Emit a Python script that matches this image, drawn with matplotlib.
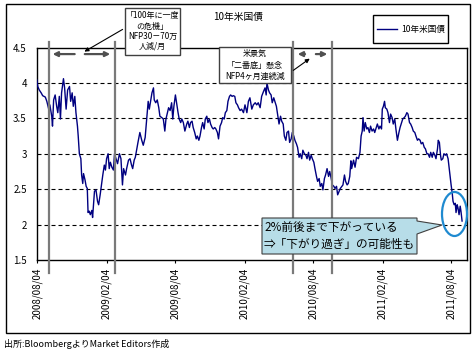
import numpy as np
import pandas as pd
import matplotlib
matplotlib.use('Agg')
import matplotlib.pyplot as plt
import matplotlib.dates as mdates
from matplotlib.patches import Rectangle, Polygon, Ellipse, FancyArrowPatch
from matplotlib.lines import Line2D

plt.rcParams['font.family'] = ['Noto Sans CJK JP', 'DejaVu Sans']

# --- data: days since 2008/08/04 and 10y yield (%) ---
days_a = [0, 2, 6, 11, 15, 22, 26, 31, 34, 39, 41, 44, 48, 52, 55, 59, 62, 65, 70, 73,
          77, 81, 86, 89, 93, 96, 100, 103, 107, 109, 112, 116, 118, 121, 123, 127, 130, 133, 135, 138,
          141, 145, 147, 152, 156, 160, 163, 167, 170, 174, 178, 181, 184, 188, 191, 194, 198, 202, 205, 209,
          213, 218, 222, 226, 229, 234, 237, 242, 246, 250, 253, 257, 260, 264, 267]
yld_a = [4.04, 3.95, 3.90, 3.86, 3.82, 3.80, 3.74, 3.63, 3.69, 3.53, 3.39, 3.76, 3.83, 3.67, 3.58, 3.81, 3.49, 3.86, 4.06, 3.93,
         3.63, 3.90, 3.95, 3.74, 3.86, 3.67, 3.81, 3.58, 3.39, 3.25, 3.00, 2.93, 2.70, 2.58, 2.72, 2.63, 2.54, 2.51, 2.17, 2.19,
         2.14, 2.20, 2.10, 2.47, 2.49, 2.33, 2.28, 2.42, 2.54, 2.70, 2.84, 2.77, 2.93, 3.00, 2.79, 2.88, 2.81, 2.77, 3.00, 2.93,
         2.86, 3.00, 2.93, 2.56, 2.79, 2.70, 2.79, 2.91, 2.93, 2.84, 2.79, 2.91, 2.95, 3.07, 3.16]

days_b = [272, 277, 281, 286, 290, 294, 297, 301, 304, 308, 310, 314, 318, 322, 325, 330, 334, 338, 341, 345,
          348, 352, 356, 359, 362, 366, 369, 373, 376, 380, 383, 387, 391, 396, 399, 403, 406, 410, 413, 417,
          421, 424, 428, 431, 435, 438, 442, 445, 449, 452, 456, 459, 463, 466, 470, 473, 477, 480, 484, 488,
          491, 495, 498, 502, 505, 509, 512, 516, 519, 523, 526, 530, 533, 537, 541, 546]
yld_b = [3.30, 3.19, 3.12, 3.23, 3.49, 3.74, 3.63, 3.76, 3.86, 3.93, 3.76, 3.72, 3.76, 3.65, 3.53, 3.51, 3.49, 3.32, 3.49, 3.58,
         3.65, 3.61, 3.72, 3.49, 3.67, 3.83, 3.72, 3.58, 3.49, 3.44, 3.49, 3.44, 3.32, 3.42, 3.46, 3.37, 3.44, 3.46, 3.37, 3.30,
         3.21, 3.25, 3.19, 3.25, 3.37, 3.44, 3.35, 3.49, 3.53, 3.44, 3.49, 3.42, 3.37, 3.35, 3.37, 3.35, 3.30, 3.21, 3.39, 3.44,
         3.51, 3.49, 3.58, 3.61, 3.74, 3.81, 3.83, 3.81, 3.82, 3.81, 3.72, 3.69, 3.65, 3.61, 3.63, 3.58]

days_c = [550, 555, 559, 563, 568, 572, 577, 581, 585, 590, 594, 599, 603, 606, 608, 612, 615, 619, 622, 626,
          629, 633, 637, 640, 644, 647, 651, 654, 658, 661, 665, 668, 672, 675, 679, 682, 686, 689, 693, 696,
          700, 703, 707, 711, 714, 718, 721, 725, 728, 732, 735, 739, 742, 746, 749, 753, 756, 760, 763, 767,
          771, 774, 778, 781, 785, 788, 792, 795, 799, 802, 806, 809, 813, 816, 820, 823, 827]
yld_c = [3.69, 3.58, 3.74, 3.79, 3.63, 3.69, 3.72, 3.69, 3.72, 3.65, 3.81, 3.88, 3.93, 3.83, 4.00, 3.90, 3.86, 3.83, 3.72, 3.79,
         3.74, 3.67, 3.53, 3.42, 3.53, 3.46, 3.42, 3.25, 3.19, 3.30, 3.32, 3.16, 3.21, 3.30, 3.25, 3.19, 3.14, 3.09, 2.95, 3.00,
         2.93, 3.05, 3.00, 2.98, 2.93, 3.02, 2.91, 2.98, 2.93, 2.88, 2.79, 2.68, 2.61, 2.65, 2.54, 2.58, 2.49, 2.65, 2.70, 2.79,
         2.68, 2.75, 2.65, 2.56, 2.54, 2.51, 2.54, 2.42, 2.47, 2.51, 2.54, 2.56, 2.70, 2.61, 2.56, 2.58, 2.68]

days_d = [830, 832, 837, 841, 845, 850, 854, 857, 860, 862, 865, 868, 872, 875, 879, 882, 886, 890, 893, 897,
          900, 904, 907, 911, 913, 916, 919, 921, 925, 928, 932, 935, 939, 942, 946, 949, 953, 957, 960, 964,
          967, 971, 974, 978, 981, 985, 988, 992, 995, 999, 1002, 1006, 1009, 1013, 1016, 1020, 1024, 1027, 1031, 1034,
          1038, 1041, 1045, 1048, 1052, 1055, 1059, 1061, 1064, 1067, 1069, 1073, 1076, 1080, 1083, 1087, 1090, 1092, 1095, 1098,
          1100, 1103, 1106, 1108, 1111, 1113, 1116, 1119, 1121, 1124]
yld_d = [2.90, 2.79, 2.91, 2.81, 2.95, 2.93, 3.02, 3.25, 3.32, 3.51, 3.32, 3.44, 3.35, 3.37, 3.30, 3.39, 3.32, 3.35, 3.30, 3.37,
         3.42, 3.35, 3.39, 3.35, 3.63, 3.67, 3.74, 3.65, 3.63, 3.58, 3.44, 3.56, 3.51, 3.42, 3.49, 3.35, 3.19, 3.30, 3.37, 3.44,
         3.49, 3.51, 3.53, 3.58, 3.56, 3.44, 3.42, 3.37, 3.32, 3.30, 3.25, 3.19, 3.21, 3.19, 3.14, 3.16, 3.09, 3.07, 3.00, 3.00,
         2.95, 3.02, 2.95, 3.02, 2.98, 2.93, 3.07, 3.19, 3.16, 2.98, 2.91, 2.93, 3.00, 2.98, 3.00, 2.93, 2.79, 2.70, 2.56, 2.44,
         2.33, 2.28, 2.30, 2.17, 2.28, 2.24, 2.14, 2.26, 2.19, 2.05]

tick_dates = ['2008-08-04', '2009-02-04', '2009-08-04', '2010-02-04',
              '2010-08-04', '2011-02-04', '2011-08-04']
y_ticks = [1.5, 2, 2.5, 3, 3.5, 4, 4.5]
event_dates = ['2008-09-05', '2009-02-26', '2010-06-12', '2010-09-23']

base = pd.Timestamp('2008-08-04')
days = days_a + days_b + days_c + days_d
ylds = yld_a + yld_b + yld_c + yld_d
dates = mdates.date2num(base + pd.to_timedelta(days, unit='D'))

W, H = 472, 354
def fx(x): return x / W
def fy(y): return 1 - y / H
def d(n): return mdates.date2num(base + pd.Timedelta(days=n))

fig = plt.figure(figsize=(W / 100, H / 100), dpi=100)
ax = fig.add_axes([fx(36.5), fy(260), (467 - 36.5) / W, 212.5 / H])

ax.plot(dates, ylds, color='#000080', lw=1.0, zorder=3)

for y in y_ticks[1:-1]:
    ax.axhline(y, color='black', lw=0.8, ls=(0, (3.6, 2.7)), zorder=1)

ax.set_ylim(1.5, 4.5)
ax.set_xlim(d(-1.3), d(1137))
ax.set_yticks(y_ticks)
ax.set_yticklabels(['1.5', '2', '2.5', '3', '3.5', '4', '4.5'], fontsize=7)
ax.tick_params(axis='y', length=0, pad=7)
ticks = pd.to_datetime(tick_dates)
ax.set_xticks(mdates.date2num(ticks))
ax.set_xticklabels([t.strftime('%Y/%m/%d') for t in ticks], rotation=90, fontsize=7,
                   va='top')
ax.tick_params(axis='x', length=2.5, direction='out', pad=3)
for s in ax.spines.values():
    s.set_linewidth(1)

# event vertical lines
tr = ax.get_xaxis_transform()
for e in event_dates:
    xe = mdates.date2num(pd.Timestamp(e))
    ax.plot([xe, xe], [-0.06, 1.027], transform=tr, color='#7a7a7a',
            lw=1.6, clip_on=False, zorder=4)

# horizontal arrows between event lines
arrow_kw = dict(arrowstyle='-|>', color='#505050', lw=1.6, mutation_scale=7)
for a, b in [(107, 34), (119, 201), (716, 682), (730, 775)]:
    ax.annotate('', xy=(d(b), 0.969), xytext=(d(a), 0.969), xycoords=tr, textcoords=tr,
                arrowprops=arrow_kw, annotation_clip=False)

# outer frame
fig.add_artist(Rectangle((fx(6), fy(332.5)), (469.5 - 6) / W, (332.5 - 4) / H,
                         transform=fig.transFigure, fill=False, ec='black', lw=1))

# title
fig.text(fx(238), fy(17), '10年米国債', ha='center', va='center', fontsize=7)

# legend
fig.add_artist(Rectangle((fx(373), fy(43)), 75 / W, 28 / H, transform=fig.transFigure,
                         fc='white', ec='black', lw=1))
fig.add_artist(Line2D([fx(377), fx(397)], [fy(29), fy(29)], transform=fig.transFigure,
                      color='#000080', lw=1))
fig.text(fx(401), fy(29), '10年米国債', ha='left', va='center', fontsize=6.2)

# annotation box 1
fig.add_artist(Rectangle((fx(125), fy(55)), 55 / W, 47 / H, transform=fig.transFigure,
                         fc='white', ec='#404040', lw=1, zorder=5))
fig.text(fx(152.5), fy(31), '「100年に一度\nの危機」\nNFP30－70万\n人減/月', ha='center',
         va='center', fontsize=5.8, linespacing=1.15, zorder=6)
fig.add_artist(FancyArrowPatch((fx(125), fy(28)), (fx(82), fy(53)),
               transform=fig.transFigure, arrowstyle='-|>', mutation_scale=6,
               color='black', lw=0.8))

# annotation box 2
fig.add_artist(Rectangle((fx(219), fy(83)), 72 / W, 36 / H, transform=fig.transFigure,
                         fc='white', ec='#404040', lw=1, zorder=5))
fig.text(fx(255), fy(65), '米景気\n「二番底」懸念\nNFP4ヶ月連続減', ha='center',
         va='center', fontsize=5.8, linespacing=1.35, zorder=6)
fig.add_artist(FancyArrowPatch((fx(291), fy(72)), (fx(312), fy(57)),
               transform=fig.transFigure, arrowstyle='-|>', mutation_scale=6,
               color='black', lw=0.8))

# callout box 3
pts = [(262, 218), (417, 218), (417, 221), (442, 225), (417, 234), (417, 254), (262, 254)]
fig.add_artist(Polygon([(fx(x), fy(y)) for x, y in pts], closed=True, transform=fig.transFigure,
                       fc='#b7dde8', ec='#404040', lw=0.8, zorder=5))
fig.text(fx(264), fy(236), '2%前後まで下がっている\n⇒「下がり過ぎ」の可能性も', ha='left',
         va='center', fontsize=8.4, linespacing=1.35, zorder=6)

# ellipse
fig.add_artist(Ellipse((fx(454.5), fy(214)), 25 / W, 44 / H, transform=fig.transFigure,
                       fill=False, ec='#1f8ad0', lw=1.6, zorder=6))

# source
fig.text(fx(4), fy(344), '出所:BloombergよりMarket Editors作成', ha='left', va='center',
         fontsize=6.5)

fig.savefig('out.png', dpi=100)
